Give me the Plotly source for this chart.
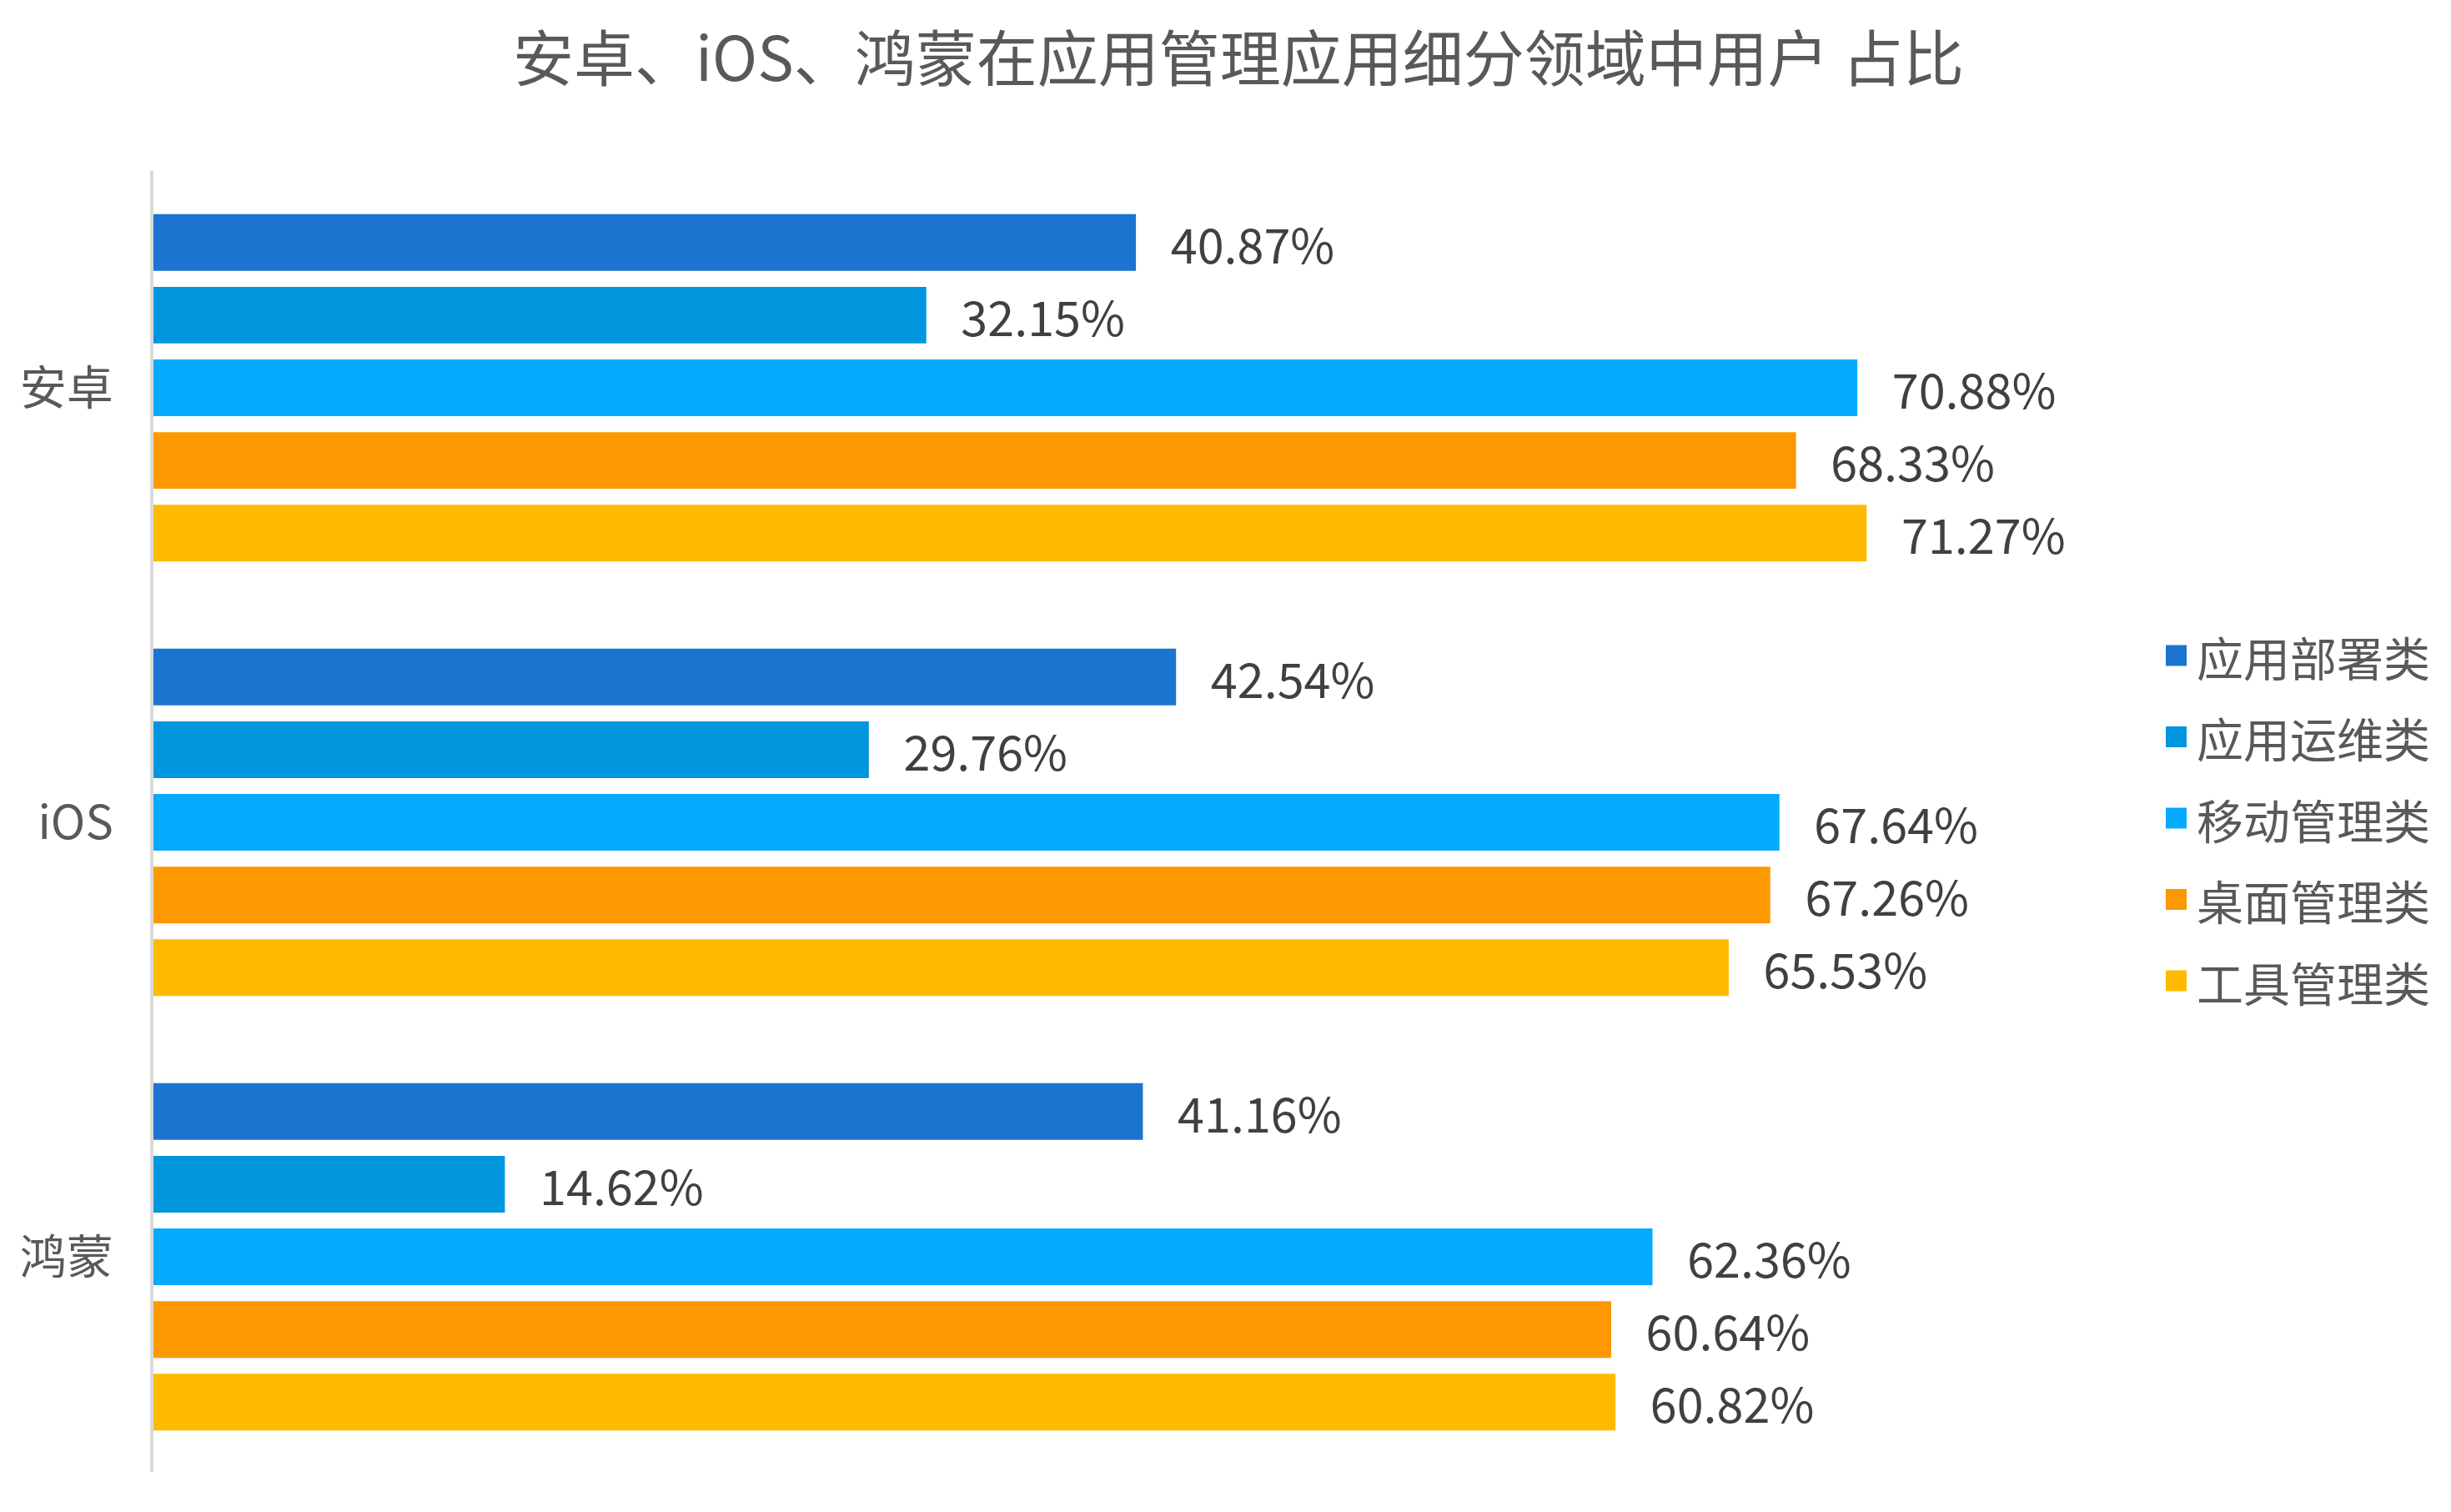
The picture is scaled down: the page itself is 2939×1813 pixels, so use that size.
import plotly.graph_objects as go

categories = ["安卓", "iOS", "鸿蒙"]
series_names = ["应用部署类", "应用运维类", "移动管理类", "桌面管理类", "工具管理类"]
deploy = [40.87, 42.54, 41.16]
ops = [32.15, 29.76, 14.62]
mobile = [70.88, 67.64, 62.36]
desktop = [68.33, 67.26, 60.64]
tools = [71.27, 65.53, 60.82]
series_values = [deploy, ops, mobile, desktop, tools]
colors = ["#1a74d0", "#0096de", "#06aaff", "#fd9900", "#feba00"]

FONT = "Noto Sans CJK SC"
W, H = 2939, 1813
L, R_EDGE, T, B_EDGE = 184, 2490, 205, 1765

fig = go.Figure()
for name, vals, col in zip(series_names, series_values, colors):
    fig.add_trace(go.Bar(
        name=name, y=categories, x=vals, orientation="h",
        marker=dict(color=col, line=dict(width=0)),
        text=[f"{v:.2f}%" for v in vals],
        texttemplate="\u00a0\u00a0\u00a0%{text}",
        textposition="outside", constraintext="none", cliponaxis=False,
        textfont=dict(family=FONT, size=57.5, color="#404040"),
        showlegend=False,
    ))

# custom legend (square markers + labels)
pw, ph = R_EDGE - L, B_EDGE - T
leg_x0 = 2597
leg_y0 = 786
leg_dy = 97.5
sq = 25
shapes = []
annotations = []
for i, (name, col) in enumerate(zip(series_names, colors)):
    cy = leg_y0 + i * leg_dy
    shapes.append(dict(type="rect", xref="paper", yref="paper",
                       x0=(leg_x0 - L) / pw, x1=(leg_x0 + sq - L) / pw,
                       y0=(B_EDGE - (cy - sq / 2)) / ph, y1=(B_EDGE - (cy + sq / 2)) / ph,
                       fillcolor=col, line=dict(width=0)))
    annotations.append(dict(xref="paper", yref="paper", x=(leg_x0 + sq + 10 - L) / pw,
                            y=(B_EDGE - cy) / ph, xanchor="left", yanchor="middle",
                            text=name, showarrow=False,
                            font=dict(family=FONT, size=56, color="#595959")))

fig.update_layout(
    width=W, height=H,
    margin=dict(l=L, r=W - R_EDGE, t=T, b=H - B_EDGE, pad=0),
    paper_bgcolor="white", plot_bgcolor="white",
    barmode="group", bargap=0.164, bargroupgap=0.22,
    title=dict(text="安卓、iOS、鸿蒙在应用管理应用细分领域中用户 占比",
               x=1485 / W, xanchor="center", y=1 - 71 / H, yanchor="middle",
               font=dict(family=FONT, size=73, color="#595959")),
    xaxis=dict(range=[0, 80], visible=False),
    yaxis=dict(range=[2.495, -0.499], showline=True, linecolor="#d9d9d9", linewidth=4,
               showgrid=False, zeroline=False, ticks="", ticklabelstandoff=33,
               tickfont=dict(family=FONT, size=56, color="#595959")),
    shapes=shapes, annotations=annotations,
    font=dict(family=FONT),
)

fig.write_html("out.html")
